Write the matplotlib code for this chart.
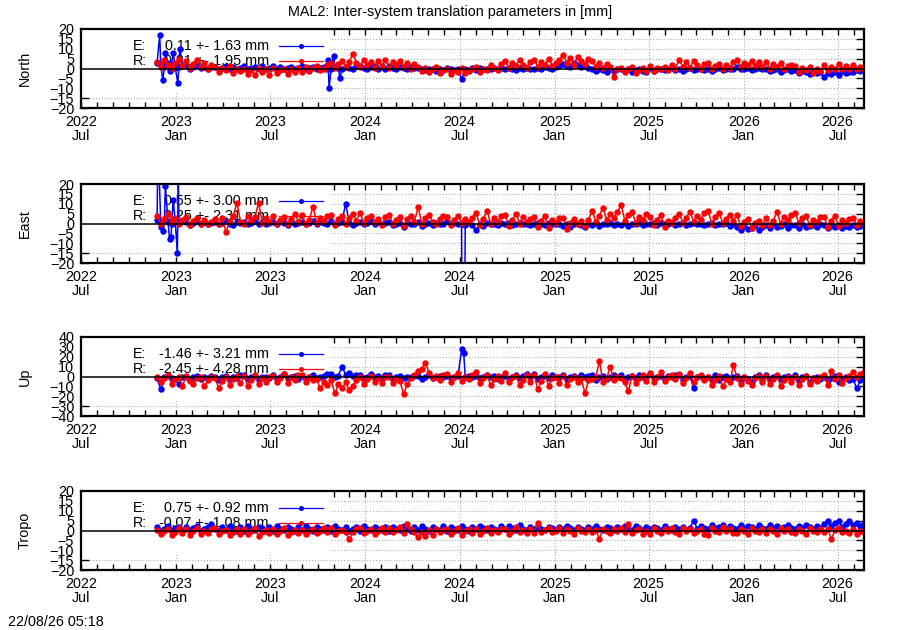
import numpy as np
import pandas as pd
import matplotlib
matplotlib.use("Agg")
import matplotlib.pyplot as plt
import matplotlib.dates as mdates
from matplotlib.patches import Rectangle

plt.rcParams["font.family"] = ["Liberation Sans", "DejaVu Sans"]
plt.rcParams["font.size"] = 10.4

# ---- values (mm), one value per week from 2022-11-25 ----
START, STEP = "2022-11-25", "7D"

NORTH_R = [3.5, 1.0, 4.5, 2.0, 0.5, 3.0, 5.0, 1.5,
           4.0, 0.5, 2.5, 4.5, 1.0, 3.0, 0.0, 2.0,
           1.0, -2.0, 0.5, -1.0, 1.5, -2.5, 0.0, -1.5,
           0.0, -3.0, -1.0, -3.5, 0.5, -2.0, -0.5, -3.5,
           0.5, -2.5, -1.0, 0.0, -3.0, -0.5, -2.0, 0.5,
           -2.0, 1.0, -1.5, 0.5, 1.5, -1.0, 0.0, 2.0,
           3.0, 0.5, 2.5, 4.0, 1.0, 3.5, 7.5, 3.0,
           1.0, 4.5, 2.0, 3.5, 0.5, 4.0, 1.5, 4.5,
           0.5, 3.5, 2.0, 4.0, 1.0, 3.0, 0.0, 2.5,
           1.0, -1.5, 0.5, -2.0, -0.5, 1.0, -2.5, -1.0,
           0.0, -3.0, -1.0, -2.0, 0.5, -2.5, -1.5, 0.0,
           1.0, -2.0, 0.0, -1.0, 2.0, 0.5, -1.0, 2.5,
           4.0, 0.5, 3.0, 1.5, 4.5, 2.0, 0.5, 3.5,
           4.5, 1.0, 3.5, 2.0, 5.0, 1.5, 3.0, 4.5,
           7.0, 3.0, 5.5, 2.0, 6.0, 4.0, 2.5, 5.0,
           4.0, 1.0, 3.0, 0.5, 2.5, 1.0, -4.5, -0.5,
           0.5, -2.0, -0.5, 1.0, -2.5, -1.0, 0.5, -1.5,
           1.5, -1.5, 0.5, -0.5, 1.0, -1.0, 2.0, 0.0,
           4.5, 1.0, 3.5, 0.5, 4.0, 2.0, 0.0, 2.5,
           3.0, -0.5, 1.5, 2.5, 0.0, 2.0, 0.5, 3.5,
           4.5, 1.0, 3.0, 2.0, 4.0, 1.5, 3.5, 1.0,
           3.5, 0.0, 2.5, 1.0, 3.0, -0.5, 1.5, 2.0,
           1.5, -2.0, 0.5, -1.0, 1.0, -2.5, 0.0, -1.5,
           2.0, -1.0, 1.0, -0.5, 2.5, 0.0, 1.5, -0.5,
           2.0, -0.5, 1.0, 0.0]
NORTH_E = [3.0, 2.0, 1.0, 3.0, 2.0, 0.5, 1.0, 1.5,
           1.5, 0.0, 1.0, 2.0, 0.5, 1.0, -0.5, 1.0,
           1.0, -0.5, 0.5, 1.5, 0.0, 1.0, -0.5, 0.5,
           1.5, -0.5, 0.5, 1.0, 0.0, 1.5, -0.5, 0.5,
           1.5, 0.0, 1.0, -0.5, 0.5, 1.0, -0.5, 0.5,
           1.5, 0.0, 0.5, 1.0, -0.5, 0.5, 1.0, 0.0,
           0.0, 1.0, 0.5, 0.0, 1.0, 0.5, 0.0, 1.5,
           1.5, 0.5, 0.0, 1.0, 1.5, 0.0, 1.0, -0.5,
           1.5, 0.5, 0.0, 1.0, 0.5, 0.0, 1.0, 0.5,
           0.5, -0.5, -1.0, 0.0, -0.5, -1.5, 0.0, -1.0,
           0.5, -0.5, -1.0, 0.0, -5.5, 0.0, -1.0, 0.5,
           -1.0, 0.5, -0.5, 0.0, -0.5, 0.5, 0.0, 0.5,
           -0.5, 0.5, 0.0, -1.0, 0.5, 0.0, 0.5, -0.5,
           -0.5, 0.5, 0.0, 1.0, 0.5, 0.0, 1.0, 1.5,
           2.5, 1.5, 1.0, 3.0, 2.0, 1.0, 1.5, 0.5,
           0.0, -1.5, -0.5, -1.0, -2.0, -0.5, -1.5, -0.5,
           0.0, -1.5, -0.5, -2.0, -1.0, 0.0, -1.5, -2.0,
           0.5, -1.5, -0.5, 0.0, -1.0, -0.5, 0.5, -1.0,
           0.0, -1.5, -0.5, 0.5, -1.0, 0.0, -0.5, -1.0,
           0.0, -1.5, -0.5, 0.5, -1.0, -0.5, 0.0, -0.5,
           1.0, -0.5, 0.0, 0.5, -1.0, 0.0, 0.5, -0.5,
           0.0, -1.5, -1.0, -0.5, -2.0, -1.0, -0.5, -1.5,
           -1.0, -2.5, -1.5, -2.0, -3.0, -1.5, -2.5, -2.0,
           -4.5, -2.5, -3.0, -2.0, -3.5, -1.5, -2.5, -2.0,
           -2.0, -1.0, -1.5, -1.0]
NORTH_E_SPIKES = [("2022-11-30", 17.0), ("2022-12-06", -6.0), ("2022-12-11", 8.0),
                  ("2022-12-19", -1.5), ("2022-12-26", 8.0), ("2023-01-04", -7.5),
                  ("2023-01-08", 10.0), ("2023-10-21", 4.5), ("2023-10-23", -10.0),
                  ("2023-11-01", 6.5), ("2023-11-13", -5.0)]

EAST_R = [4.0, 0.0, 2.5, 5.0, 1.0, 3.0, -0.5, 2.0,
          3.5, -1.0, 1.5, 3.0, 0.0, 2.0, -0.5, 1.0,
          2.5, 0.0, 3.0, -4.5, 1.5, 4.0, 10.5, 1.0,
          0.0, 4.0, 1.5, 3.5, 10.5, 0.5, 3.0, 1.0,
          4.0, -0.5, 2.0, 3.5, 0.0, 2.5, 5.0, 1.0,
          4.5, -0.5, 2.0, 8.5, 0.5, 3.0, 1.5, 4.0,
          4.5, -1.0, 2.5, 4.0, 0.0, 3.0, 5.0, 1.5,
          5.5, 0.5, 3.0, 4.0, 1.0, 2.5, -1.0, 3.5,
          4.5, 0.0, 2.0, 3.5, -1.5, 2.5, 4.0, 1.0,
          8.5, 0.0, 3.0, 4.5, 1.0, -0.5, 2.5, 4.0,
          3.5, -1.0, 2.0, 4.0, 0.5, 2.5, 1.0, 3.0,
          5.5, -1.0, 2.5, 6.5, 0.0, 3.0, 1.0, 4.0,
          4.5, -1.5, 2.0, 5.0, 0.0, 3.5, 1.0, 2.5,
          3.5, -2.0, 1.5, 4.0, -2.5, 2.0, 0.5, 3.0,
          3.0, -3.0, 0.5, 2.5, 0.0, 1.5, -1.5, 2.0,
          6.5, 1.0, 4.0, 8.0, 2.0, 5.0, 3.0, 6.0,
          9.5, 1.5, 4.5, 6.0, 0.5, 3.5, 2.0, 5.0,
          3.5, -1.0, 2.0, 4.5, -2.0, 1.5, 0.5, 3.0,
          5.0, 0.5, 3.0, 6.0, 1.0, 4.0, 2.0, 5.5,
          6.5, 0.0, 3.5, 5.5, 0.5, 2.5, 4.5, 1.5,
          4.5, -1.5, 1.0, 2.5, -2.5, 0.5, 1.5, -1.0,
          3.0, -1.0, 1.5, 6.0, 0.0, 3.5, 2.0, 4.5,
          5.5, 0.5, 3.0, 4.0, -1.0, 2.0, 1.0, 3.5,
          3.5, -2.0, 1.5, 4.0, -1.5, 2.0, 0.5, 2.5,
          3.0, -1.0, 1.5, 0.5]
EAST_E = [2.0, 0.5, 1.5, 1.0, 0.0, 1.0, 0.5, 1.5,
          1.0, -1.0, 0.5, 1.5, 0.0, 1.0, -0.5, 0.5,
          1.0, -0.5, 0.5, 1.5, 0.0, -1.0, 1.0, 0.5,
          1.0, 0.0, 0.5, 1.5, -0.5, 1.0, 0.0, 0.5,
          1.0, 0.0, 1.5, 0.5, -1.0, 1.0, 0.0, 0.5,
          1.0, -0.5, 0.5, 1.5, 0.0, 1.0, 0.5, 0.0,
          1.5, 0.0, 0.5, 1.0, 10.0, 0.5, -1.0, 0.5,
          1.0, -0.5, 0.5, 1.5, 0.0, 1.0, -0.5, 0.5,
          1.0, -1.0, 0.0, 0.5, -2.0, 0.5, -0.5, 0.0,
          1.0, -1.5, 0.0, 0.5, -1.0, 0.5, -0.5, 0.0,
          1.5, -0.5, 0.5, 0.0, 0.0, -1.0, 0.5, -1.0,
          -3.5, 0.0, -1.5, 0.5, -0.5, 0.0, -1.0, 0.5,
          -0.5, 0.5, -1.0, 0.0, 0.5, -0.5, 0.0, -1.0,
          -0.5, 0.5, 0.0, -1.0, 0.5, -0.5, 0.0, -0.5,
          -1.5, 0.0, -2.0, -0.5, 0.0, -1.0, -2.0, -0.5,
          -1.0, 0.5, -1.5, 0.0, -0.5, 0.5, -1.0, 0.0,
          -1.0, 0.5, -1.5, 0.0, -0.5, 0.5, -1.0, 0.0,
          -0.5, 0.5, -1.0, 0.5, 0.0, -0.5, 0.5, -1.0,
          -0.5, 0.5, -1.0, 0.0, 0.5, -0.5, 0.0, -1.0,
          -0.5, 0.5, -1.0, 0.0, -0.5, 0.5, -1.5, -0.5,
          -2.0, -3.5, -1.5, -3.0, -2.5, -1.0, -3.5, -2.0,
          -1.0, -2.5, -0.5, -2.0, -1.5, -0.5, -2.5, -1.0,
          -1.0, -2.5, -0.5, -2.0, -1.5, -1.0, -2.0, -0.5,
          -1.0, -2.5, -1.5, -2.0, -1.0, -2.5, -1.5, -2.0,
          -1.0, -2.0, -1.5, -1.0]
EAST_E_SPIKES = [("2022-11-26", 28.0), ("2022-11-29", 24.0), ("2022-12-03", -2.0),
                 ("2022-12-06", -4.0), ("2022-12-11", 19.0), ("2022-12-19", -8.0),
                 ("2022-12-22", -7.0), ("2022-12-26", 12.0), ("2023-01-03", -15.0),
                 ("2023-01-05", 22.0), ("2023-01-08", 1.0), ("2024-07-06", -80.0),
                 ("2024-07-10", -80.0)]

UP_R = [0.0, -6.0, -2.0, 2.0, -8.0, -3.0, -1.0, -10.0,
        1.0, -5.0, -8.0, -2.0, 0.0, -10.0, -4.0, -1.0,
        -2.0, -12.0, -5.0, 0.0, -9.0, -3.0, 1.0, -7.0,
        1.0, -10.0, -4.0, 2.0, -8.0, -2.0, -6.0, 0.0,
        1.0, -6.0, -2.0, 3.0, -7.0, -1.0, -4.0, 2.0,
        2.0, -6.0, -1.0, -4.0, -3.0, -12.0, -6.0, -9.0,
        -4.0, -17.0, -8.0, -12.0, -6.0, -14.0, -10.0, -4.0,
        -1.0, -8.0, -3.0, 1.0, -6.0, -2.0, -7.0, 0.0,
        0.0, -7.0, -3.0, -5.0, -18.0, -8.0, -2.0, 2.0,
        6.0, 8.0, 14.0, 4.0, -2.0, 1.0, -4.0, 2.0,
        3.0, -6.0, -1.0, 4.0, -5.0, 0.0, -3.0, 2.0,
        5.0, -7.0, -2.0, 2.0, -9.0, -3.0, 1.0, -5.0,
        4.0, -6.0, -1.0, 1.0, -9.0, -4.0, 2.0, -6.0,
        2.0, -13.0, -5.0, 3.0, -10.0, -2.0, 0.0, -7.0,
        1.0, -9.0, -3.0, 0.0, -6.0, -2.0, -17.0, -4.0,
        -3.0, -1.0, 16.0, -6.0, -2.0, 10.0, -4.0, 0.0,
        -2.0, -6.0, -15.0, 1.0, -7.0, -2.0, 2.0, -5.0,
        4.0, -6.0, -1.0, 5.0, -5.0, 0.0, 2.0, -3.0,
        3.0, -7.0, -2.0, 4.0, -6.0, -1.0, 2.0, -4.0,
        0.0, -9.0, -4.0, 1.0, -10.0, -3.0, -6.0, 12.0,
        -2.0, -8.0, 0.0, -5.0, -9.0, -2.0, 1.0, -6.0,
        1.0, -8.0, -3.0, 2.0, -10.0, -4.0, 0.0, -6.0,
        0.0, -9.0, -3.0, 1.0, -8.0, -2.0, -5.0, 0.0,
        2.0, -9.0, 6.0, -3.0, 2.0, -7.0, -2.0, 1.0,
        5.0, -1.0, 3.0, 5.0]
UP_E = [-2.0, -13.0, -1.0, 1.0, -2.0, -3.0, -8.0, 0.0,
        0.0, -4.0, -1.0, 1.0, -3.0, 0.0, -2.0, 1.0,
        0.0, -4.0, -1.0, 1.0, -3.0, 0.0, -2.0, 2.0,
        2.0, -3.0, 0.0, 1.0, -4.0, -1.0, 0.0, -2.0,
        2.0, -3.0, 0.0, 3.0, -2.0, -1.0, 1.0, -3.0,
        1.0, -3.0, 0.0, 2.0, -2.0, 0.0, 1.0, 3.0,
        3.0, 0.0, 1.0, 10.0, 2.0, 4.0, 1.0, 2.0,
        2.0, -2.0, 0.0, 3.0, -1.0, 1.0, -2.0, 2.0,
        2.0, -3.0, 0.0, 1.0, -2.0, 0.0, -1.0, 1.0,
        1.0, -3.0, -1.0, 2.0, -2.0, 0.0, 1.0, -1.0,
        1.0, -2.0, 0.0, 1.0, 27.5, -1.0, 1.0, 0.0,
        1.0, -2.0, 0.0, 2.0, -1.0, 1.0, -3.0, 0.0,
        1.0, -3.0, 0.0, 2.0, -2.0, 1.0, 3.0, -1.0,
        3.0, -3.0, 0.0, 1.0, -2.0, 2.0, -1.0, 0.0,
        2.0, -3.0, 0.0, 1.0, -2.0, 2.0, -1.0, 1.0,
        2.0, -4.0, -1.0, 1.0, -3.0, 0.0, 2.0, -1.0,
        2.0, -3.0, 0.0, 1.0, -2.0, 2.0, -1.0, 0.0,
        3.0, -2.0, 0.0, 1.0, -3.0, 1.0, -1.0, 2.0,
        2.0, -4.0, 0.0, 1.0, -12.0, -1.0, 1.0, -3.0,
        0.0, -3.0, 2.0, -4.0, -1.0, 1.0, -2.0, 0.0,
        1.0, -5.0, -1.0, -3.0, -6.0, 0.0, 2.0, -4.0,
        2.0, -4.0, 0.0, 1.0, -3.0, -1.0, 1.0, -2.0,
        2.0, -5.0, -1.0, 1.0, -6.0, -2.0, 0.0, -3.0,
        0.0, -4.0, -2.0, 1.0, -6.0, -3.0, 0.0, -4.0,
        -3.0, -12.0, -4.0, -1.0]
UP_E_SPIKES = [("2024-07-09", 24.0)]

TROPO_R = [0.5, -2.0, -0.5, 1.0, -2.5, -1.0, 1.5, -1.5,
           1.0, -2.5, -0.5, 1.5, -2.0, 0.0, -1.5, 1.0,
           1.5, -2.0, -0.5, 0.5, -2.5, -1.0, 1.0, -2.0,
           1.0, -2.0, -0.5, 1.5, -3.0, -1.0, 0.5, -1.5,
           1.0, -2.0, 0.0, 1.5, -2.5, -1.0, 0.5, -1.5,
           0.5, -2.0, -0.5, 1.0, -1.5, 0.0, 1.5, -1.0,
           1.5, -2.0, 0.0, 0.5, -1.0, -4.5, -1.0, 1.0,
           1.5, -1.5, 0.0, 1.0, -2.0, -0.5, 1.5, -1.0,
           1.5, -1.0, 0.5, 2.0, -1.5, 3.5, 1.0, -1.0,
           -3.5, -1.0, -3.0, 0.5, -2.5, 1.0, -1.0, 0.5,
           1.0, -2.0, -0.5, 1.5, -2.5, 0.0, 1.0, -1.5,
           1.0, -2.0, 0.0, 1.5, -1.5, 0.5, -1.0, 1.0,
           1.0, -2.0, 0.0, 2.0, -1.0, 0.5, -1.5, 1.0,
           -1.5, 4.0, -1.0, 0.5, 1.5, -1.0, 0.0, 1.5,
           -1.5, 1.0, -0.5, -2.0, 1.5, 0.0, -1.0, 1.0,
           -1.0, 0.5, -4.5, 1.0, -0.5, -1.5, 1.0, 0.0,
           1.5, -1.0, 3.5, -1.5, 0.5, 1.0, -2.0, 0.0,
           -2.0, 1.5, 0.0, -1.5, 1.0, -0.5, 1.5, -1.0,
           -2.0, 1.5, -0.5, 1.0, -1.5, 0.0, 1.0, -2.0,
           -2.5, 1.5, 0.0, -1.0, 2.0, -0.5, 1.0, -1.5,
           -1.5, 1.0, -0.5, -2.0, 1.5, 0.0, -1.0, 1.0,
           -1.5, 1.0, 0.0, -2.0, 1.5, -0.5, 1.0, -1.0,
           -1.5, 1.0, -0.5, -2.0, 1.5, 0.0, -1.0, 1.0,
           -1.0, 1.0, -4.5, 0.5, 1.5, -1.0, 0.0, -1.5,
           1.0, -2.0, 0.0, -1.0]
TROPO_E = [2.0, 0.0, 1.0, 2.5, 0.5, 1.5, 2.0, 0.0,
           2.0, 0.5, 1.5, 2.5, 0.0, 1.0, 2.0, 3.5,
           1.0, 0.0, 2.0, 0.5, 2.5, 1.0, 0.0, 2.0,
           0.0, 2.5, 1.0, 0.5, 2.0, 1.5, 0.0, 2.0,
           0.0, 2.5, 1.0, 0.5, 2.0, 1.0, 0.0, 2.0,
           0.5, 2.5, 1.0, 0.0, 2.0, 1.0, 0.5, 2.0,
           0.0, 2.5, 1.0, 0.5, 2.0, 0.0, 1.0, 2.0,
           0.0, 2.5, 1.0, 0.5, 2.0, 1.0, 0.5, 2.0,
           0.0, 2.0, 1.0, 0.5, 2.5, 1.0, 0.0, 2.0,
           0.5, 2.5, 1.0, 0.0, 2.0, 1.0, 0.5, 2.5,
           0.0, 2.0, 1.0, 0.5, 2.5, 1.0, 0.0, 2.0,
           1.0, 2.5, 1.5, 0.5, 2.0, 1.0, 0.5, 2.5,
           1.0, 2.5, 1.5, 0.5, 3.0, 1.0, 0.5, 2.0,
           1.0, 2.5, 1.0, 0.5, 2.0, 1.5, 0.5, 2.0,
           1.0, 2.5, 1.5, 0.5, 2.0, 1.0, 0.5, 2.0,
           1.0, 2.5, 1.0, 0.5, 2.0, 1.5, 0.5, 2.0,
           1.0, 2.5, 1.0, 0.5, 2.5, 1.5, 0.5, 2.0,
           1.0, 2.0, 1.5, 0.5, 2.5, 1.0, 0.5, 2.0,
           1.0, 2.0, 0.5, 1.5, 5.0, 1.0, 2.5, 1.5,
           1.0, 3.0, 1.5, 2.0, 3.0, 1.0, 2.5, 1.5,
           1.0, 3.0, 1.5, 2.5, 2.0, 1.0, 3.0, 1.5,
           1.0, 3.0, 1.5, 2.5, 1.0, 2.0, 3.0, 1.5,
           1.0, 2.5, 1.5, 3.0, 2.0, 1.0, 2.5, 1.5,
           3.5, 5.0, 2.5, 4.0, 5.0, 2.0, 3.5, 5.0,
           3.0, 4.0, 2.5, 3.5]

PANELS = ["North", "East", "Up", "Tropo"]
YLIM = [20, 20, 40, 20]
YSTEP = [5, 5, 10, 5]
E_TEXT = ["0.11 +- 1.63 mm", "0.55 +- 3.00 mm", "-1.46 +- 3.21 mm", "0.75 +- 0.92 mm"]
R_TEXT = ["0.81 +- 1.95 mm", "2.25 +- 2.31 mm", "-2.45 +- 4.28 mm", "-0.07 +- 1.08 mm"]

dates = pd.date_range(START, periods=len(NORTH_E), freq=STEP)

def series(vals, spikes=()):
    s = pd.Series(vals, index=dates)
    if spikes:
        e = pd.Series([v for _, v in spikes], index=pd.to_datetime([d for d, _ in spikes]))
        s = pd.concat([s, e]).sort_index()
    return s

E_SER = [series(NORTH_E, NORTH_E_SPIKES), series(EAST_E, EAST_E_SPIKES),
         series(UP_E, UP_E_SPIKES), series(TROPO_E)]
R_SER = [series(NORTH_R), series(EAST_R), series(UP_R), series(TROPO_R)]

W, H = 900, 630
fig = plt.figure(figsize=(W / 100, H / 100), dpi=100)
tops = [29, 184, 337, 491]
majors = pd.date_range("2022-07-01", "2026-07-01", freq="6MS")
mlabels = [d.strftime("%Y\n%b") for d in majors]

for k, name in enumerate(PANELS):
    ax = fig.add_axes([81 / W, 1 - (tops[k] + 79) / H, 783 / W, 79 / H])
    lim = YLIM[k]
    ax.set_xlim(pd.Timestamp("2022-07-01"), pd.Timestamp("2026-08-21"))
    ax.set_ylim(-lim, lim)
    ax.set_yticks(np.arange(-lim, lim + 1, YSTEP[k]))
    ax.set_xticks(majors)
    ax.set_xticklabels(mlabels, linespacing=1.05)
    ax.xaxis.set_minor_locator(mdates.MonthLocator())
    ax.tick_params(which="both", direction="in", top=True, right=True, width=1)
    ax.tick_params(axis="x", which="both", length=4, pad=5)
    ax.tick_params(axis="y", length=6, pad=5)
    for sp in ax.spines.values():
        sp.set_linewidth(1.6)
    ax.set_axisbelow(True)
    ax.grid(True, which="major", color="#a0a0a0", ls=(0, (1, 2)), lw=0.7)
    # opaque key box hides the grid behind the key
    ax.add_patch(Rectangle((0, 0.19), 0.318, 0.81, transform=ax.transAxes,
                           fc="white", ec="none", zorder=0.6))
    for row, (lab, txt, col) in enumerate([("E:", E_TEXT[k], "#0000ff"),
                                           ("R:", R_TEXT[k], "#ff0000")]):
        yy = 0.79 - 0.19 * row
        ax.text(0.066, yy, lab, transform=ax.transAxes, ha="left", va="center", zorder=0.7)
        ax.text(0.240, yy, txt, transform=ax.transAxes, ha="right", va="center", zorder=0.7)
        ax.plot([0.253, 0.309], [yy, yy], transform=ax.transAxes, color=col, lw=0.9, zorder=0.8)
        ax.plot([0.281], [yy], "o", ms=2.6, color=col, transform=ax.transAxes, zorder=0.8)
    e, r = E_SER[k], R_SER[k]
    ax.plot(e.index, e.values, "-o", color="#0000ff", lw=1.1, ms=3.6, zorder=2)
    ax.plot(r.index, r.values, "-o", color="#ff0000", lw=1.1, ms=3.6, zorder=2.1)
    ax.axhline(0, color="black", lw=1.1, zorder=3)
    ax.set_ylabel(name)
    ax.yaxis.set_label_coords(-0.063, 0.5)

fig.text(0.5, 1 - 12 / H, "MAL2: Inter-system translation parameters in [mm]",
         ha="center", va="center")
fig.text(8 / W, 1 - 622 / H, "22/08/26 05:18", ha="left", va="center")
fig.savefig("out.png", dpi=100)
